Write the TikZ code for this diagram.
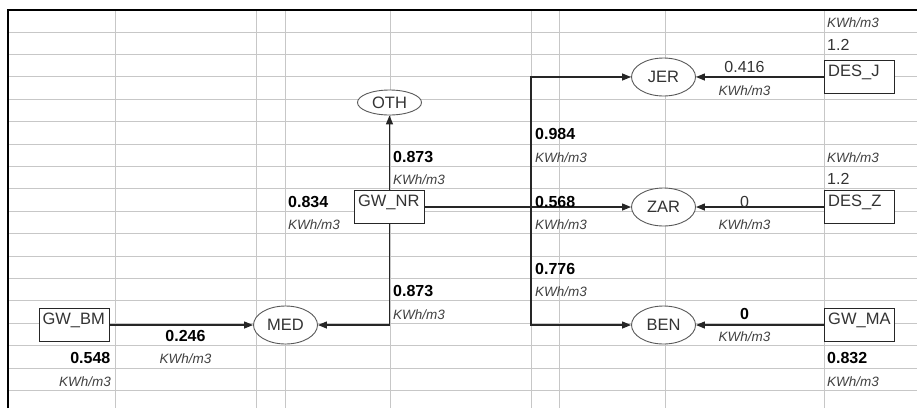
\documentclass[tikz,border=0pt]{standalone}
\usepackage{fontspec}
\setmainfont{Liberation Sans}
\usetikzlibrary{shapes.geometric, arrows.meta}

\begin{document}
\begin{tikzpicture}[
  x=1pt, y=-1pt,
  every node/.style={font=\fontsize{16.5}{19}\selectfont},
  gridline/.style={draw=black!22, line width=0.8pt},
  frame/.style={draw=black, line width=2pt},
  cellbox/.style={rectangle, draw=black!85, fill=white, line width=0.9pt, text width=63pt, align=left, inner xsep=3.5pt, inner ysep=0pt, text height=16pt, text depth=17.5pt, text=black!80},
  zone/.style={ellipse, draw=black!65, fill=white, line width=0.9pt, minimum width=64pt, minimum height=38pt, inner sep=0pt, text=black!80},
  val/.style={inner sep=0pt, font=\fontsize{16}{19}\selectfont\bfseries},
  rawval/.style={inner sep=0pt, text=black!80, font=\fontsize{16}{19}\selectfont},
  unit/.style={inner sep=0pt, text=black!75, font=\fontsize{13.5}{16}\selectfont\itshape},
  flow/.style={-{Triangle[length=9pt, width=7pt]}, draw=black!85, line width=1.3pt},
]
\useasboundingbox (0,0) rectangle (917,408);

%% Sheet grid
\foreach \r in {1,...,17}
  \draw[gridline] (8,{9.5+22.4*\r}) -- (917,{9.5+22.4*\r});
\foreach \c in {115,256,285,390,531,559,665,824.5}
  \draw[gridline] (\c,9.5) -- (\c,408);
\draw[frame] (8,408) -- (8,9.5) -- (917,9.5);

%% Sources
\node[cellbox] (gwnr) at (389.5,207) {GW\_NR};
\node[cellbox] (gwbm) at (74,325)    {GW\_BM};
\node[cellbox] (desj) at (859.7,77)  {DES\_J};
\node[cellbox] (desz) at (859.7,207) {DES\_Z};
\node[cellbox] (gwma) at (859.7,325) {GW\_MA};

%% Demand zones
\node[zone, minimum height=25pt] (oth) at (389.5,102.5) {OTH};
\node[zone] (jer) at (663.5,77)  {JER};
\node[zone] (zar) at (663.5,207) {ZAR};
\node[zone] (med) at (285.5,325) {MED};
\node[zone] (ben) at (663.5,325) {BEN};

\coordinate (split) at (531,207);

%% Arrows
\draw[flow] (gwnr)       -- (oth);
\draw[flow] (gwnr.south) |- (med.east);
\draw[flow] (gwbm)       -- (med);
\draw[flow] (gwnr)       -- (zar);
\draw[flow] (split)      |- (jer);
\draw[flow] (split)      |- (ben);
\draw[flow] (desj)       -- (jer);
\draw[flow] (desz)       -- (zar);
\draw[flow] (gwma)       -- (ben);

%% Values round GW_NR
\node[val,  anchor=base west] (vOTH) at (393,162.3) {0.873};
\node[unit, anchor=base west] (uOTH) at (393,184.7) {KWh/m3};
\node[val,  anchor=base west] (vNR)  at (288,207.1) {0.834};
\node[unit, anchor=base west] (uNR)  at (288,229.5) {KWh/m3};
\node[val,  anchor=base west] (vMED) at (393,296.7) {0.873};
\node[unit, anchor=base west] (uMED) at (393,319.1) {KWh/m3};

%% Values round GW_BM
\node[val,  anchor=base]      (vBM)    at (185.5,341.5) {0.246};
\node[unit, anchor=base]      (uBM)    at (185.5,363.9) {KWh/m3};
\node[val,  anchor=base east] (vBMsrc) at (110.5,363.9) {0.548};
\node[unit, anchor=base east] (uBMsrc) at (111,386.3)   {KWh/m3};

%% Values on the split
\node[val,  anchor=base west] (vJER) at (535,139.9) {0.984};
\node[unit, anchor=base west] (uJER) at (535,162.3) {KWh/m3};
\node[val,  anchor=base west] (vZAR) at (535,207.1) {0.568};
\node[unit, anchor=base west] (uZAR) at (535,229.5) {KWh/m3};
\node[val,  anchor=base west] (vBEN) at (535,274.3) {0.776};
\node[unit, anchor=base west] (uBEN) at (535,296.7) {KWh/m3};

%% Values round the right sources
\node[unit,   anchor=base west] (uDESJtop) at (827,27.9)    {KWh/m3};
\node[rawval, anchor=base west] (vDESJ)    at (827,50.3)    {1.2};
\node[rawval, anchor=base]      (vJERin)   at (744.5,72.7)  {0.416};
\node[unit,   anchor=base]      (uJERin)   at (744.5,95.1)  {KWh/m3};
\node[unit,   anchor=base west] (uDESZtop) at (827,162.3)   {KWh/m3};
\node[rawval, anchor=base west] (vDESZ)    at (827,184.7)   {1.2};
\node[rawval, anchor=base]      (vZARin)   at (744.5,207.1) {0};
\node[unit,   anchor=base]      (uZARin)   at (744.5,229.5) {KWh/m3};
\node[val,    anchor=base]      (vBENin)   at (744.5,319.1) {0};
\node[unit,   anchor=base]      (uBENin)   at (744.5,341.5) {KWh/m3};
\node[val,    anchor=base west] (vMA)      at (827,363.9)   {0.832};
\node[unit,   anchor=base west] (uMA)      at (827,386.3)   {KWh/m3};

\end{tikzpicture}
\end{document}
